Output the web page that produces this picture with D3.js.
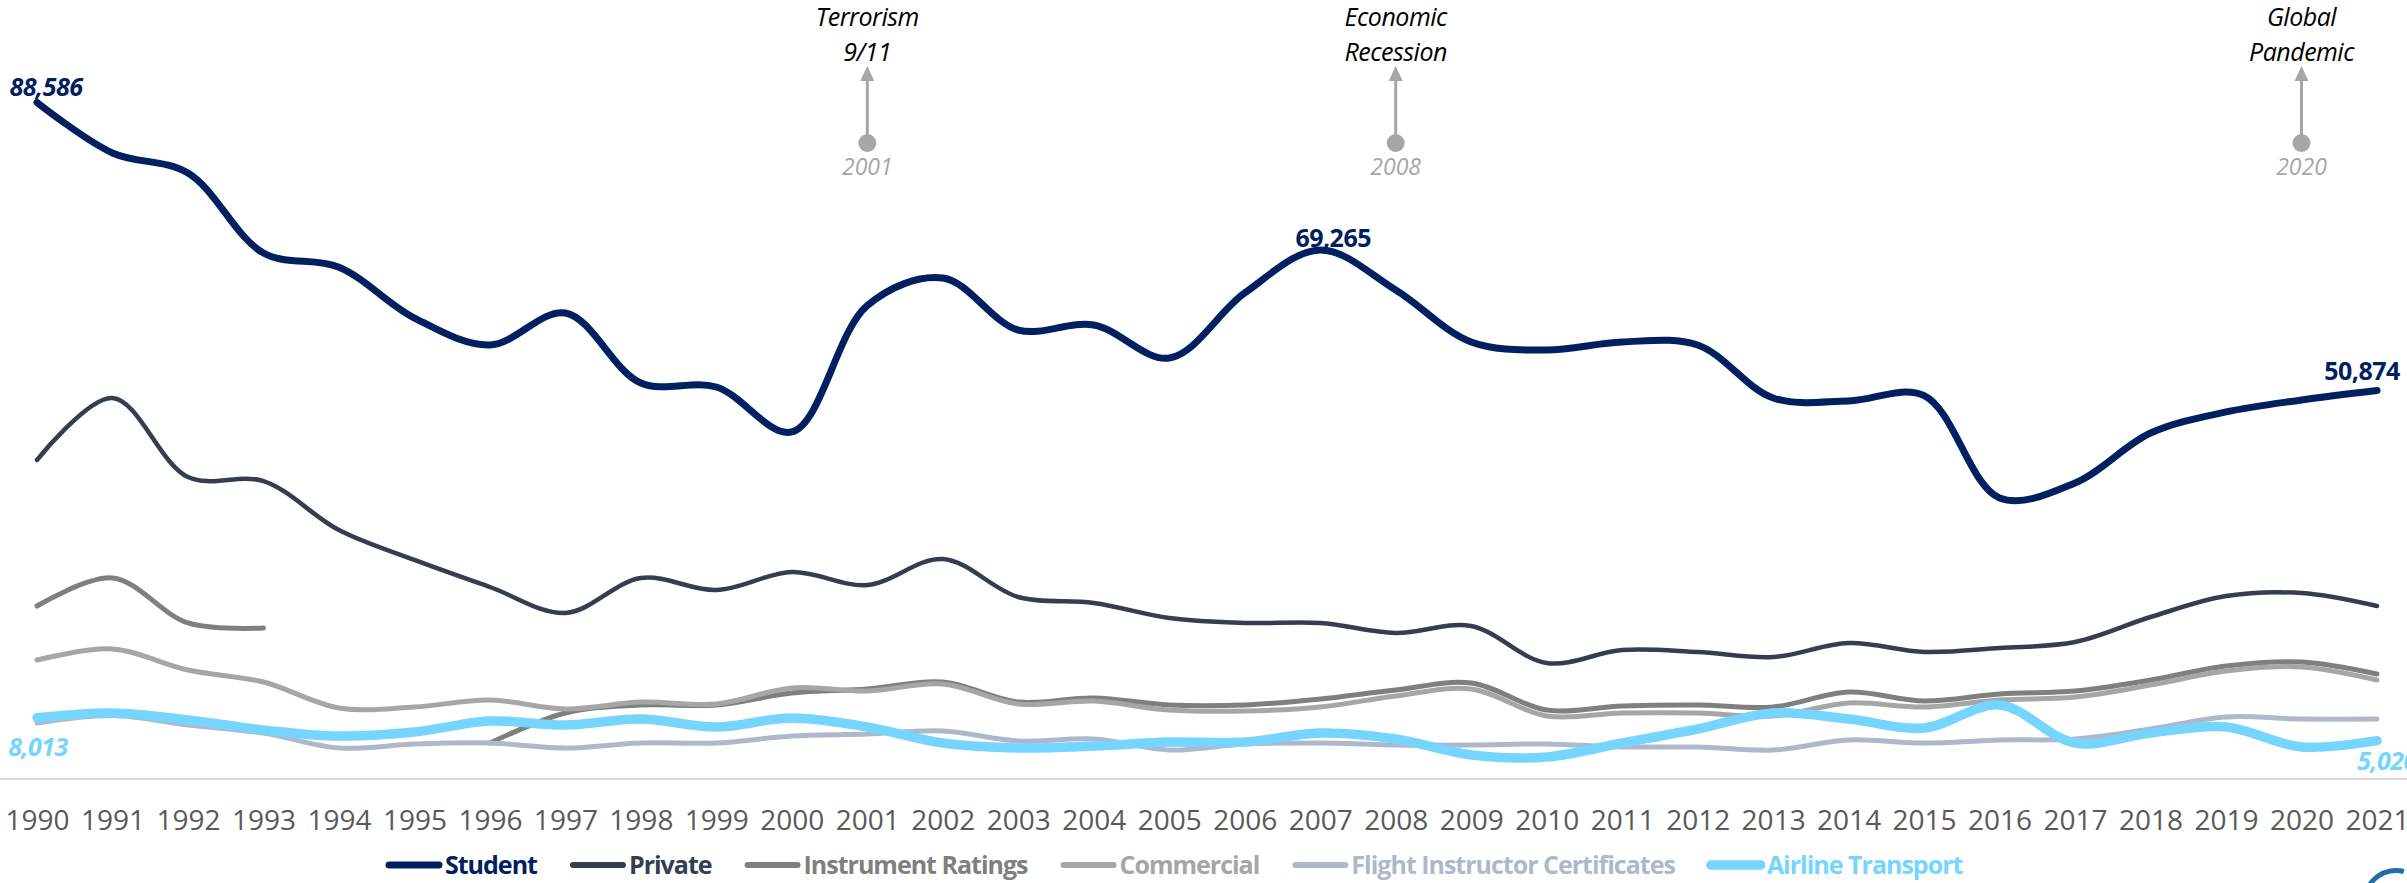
<!DOCTYPE html>
<html>
<head>
<meta charset="utf-8">
<script src="https://cdn.jsdelivr.net/npm/d3@7"></script>
<style>
  body { margin: 0; background: #fff; }
  text { font-family: "Open Sans", "Noto Sans", sans-serif; }
</style>
</head>
<body>
<div id="chart"></div>
<script>
const width = 2407
const height = 883

// Data
const years = [1990, 1991, 1992, 1993, 1994, 1995, 1996, 1997, 1998, 1999, 2000, 2001, 2002, 2003, 2004, 2005,
  2006, 2007, 2008, 2009, 2010, 2011, 2012, 2013, 2014, 2015, 2016, 2017, 2018, 2019, 2020, 2021]
const student = [88586, 81970, 79350, 68875, 67000, 60360, 56830, 61020, 51850, 51330, 45440, 62000, 65600, 58790, 59450, 55120,
  63640, 69265, 64030, 57220, 56170, 57220, 56830, 49890, 49500, 50200, 36800, 38760, 45300, 48060, 49630, 50874]
const privatePilot = [41770, 49890, 39540, 39000, 32600, 28680, 25140, 21740, 26320, 24750, 27100, 25400, 28810, 23830, 23050, 21080,
  20430, 20430, 19120, 20030, 15190, 16890, 16630, 15970, 17810, 16630, 17150, 17940, 21210, 23960, 24350, 22650]
const instrument = [22650, 26320, 20430, 19770, null, null, 4710, 8640, 9690, 9690, 11260, 11780, 12700, 10080, 10610, 9690,
  9690, 10480, 11650, 12570, 9030, 9560, 9690, 9430, 11390, 10210, 11130, 11520, 12960, 14800, 15320, 13750]
const commercial = [15580, 17020, 14270, 12700, 9300, 9430, 10340, 9170, 10080, 9820, 11920, 11520, 12440, 9820, 10210, 9030,
  8900, 9430, 10870, 11780, 8250, 8640, 8640, 8250, 9950, 9430, 10340, 10740, 12310, 14140, 14670, 12960]
const instructor = [7330, 8300, 7070, 6020, 4060, 4580, 4710, 4060, 4710, 4710, 5630, 5890, 6290, 4980, 5240, 3800,
  4580, 4710, 4450, 4450, 4580, 4190, 4190, 3800, 5110, 4710, 5110, 5240, 6550, 8120, 7860, 7860]
const airline = [8013, 8640, 7730, 6420, 5630, 6150, 7590, 7070, 7860, 6810, 7990, 6810, 4710, 4060, 4320, 4840,
  4840, 6020, 5240, 3140, 2880, 4710, 6550, 8640, 7860, 6680, 9690, 4710, 6020, 6810, 4190, 5020]

const seriesNames = ["Student", "Private", "Instrument Ratings", "Commercial", "Flight Instructor Certificates", "Airline Transport"]
const seriesValues = [student, privatePilot, instrument, commercial, instructor, airline]
const seriesColors = ["#002060", "#333F50", "#7F7F7F", "#A6A6A6", "#ADB9CA", "#75D5FF"]
const seriesWidths = [7, 4.5, 5, 5, 5, 9.5]

const eventYears = [2001, 2008, 2020]
const eventLabels = [["Terrorism", "9/11"], ["Economic", "Recession"], ["Global", "Pandemic"]]

const svg = d3.select("div#chart").append("svg").attr("width", width).attr("height", height)

// Scales
const x = d3.scalePoint().domain(years).range([37, 2377])
const y = d3.scaleLinear().domain([0, 102000]).range([779, 0])

// X axis
const xAxis = d3.axisBottom(x).tickSize(0).tickPadding(31)
const xAxisGroup = svg.append("g").attr("transform", "translate(0, 779)").call(xAxis)
xAxisGroup.select(".domain").remove()
xAxisGroup.append("line").attr("x1", 0).attr("x2", width).attr("stroke", "#D9D9D9").attr("stroke-width", 2)
xAxisGroup.selectAll(".tick text")
  .attr("font-family", "'Open Sans', sans-serif").attr("font-size", 28).attr("fill", "#595959")

// Lines
const line = d3.line()
  .defined(d => d != null)
  .x((d, i) => x(years[i]))
  .y(d => y(d))
  .curve(d3.curveCatmullRom)

const linesGroup = svg.append("g").attr("id", "linesGroup")
seriesValues.forEach((values, s) => {
  linesGroup.append("path")
    .attr("d", line(values))
    .attr("fill", "none")
    .attr("stroke", seriesColors[s])
    .attr("stroke-width", seriesWidths[s])
    .attr("stroke-linecap", "round")
    .attr("stroke-linejoin", "round")
})

// Data labels
const labels = svg.append("g").attr("id", "labels")
function addLabel(values, idx, color, italic, dx, dy) {
  labels.append("text")
    .attr("x", x(years[idx]) + dx)
    .attr("y", y(values[idx]) + dy)
    .attr("text-anchor", "middle")
    .attr("font-size", 25)
    .attr("font-weight", "bold")
    .attr("font-style", italic ? "italic" : "normal")
    .attr("letter-spacing", -0.5)
    .attr("fill", color)
    .text(d3.format(",")(values[idx]))
}
addLabel(student, 0, "#002060", true, 9, -6)
addLabel(student, years.indexOf(2007), "#002060", false, 13, -3)
addLabel(student, years.length - 1, "#002060", false, -15, -10)
addLabel(airline, 0, "#75D5FF", true, 1, 38)
addLabel(airline, years.length - 1, "#75D5FF", true, 10, 29)

// Event annotations
const events = svg.append("g").attr("id", "events")
eventYears.forEach((yr, i) => {
  const ex = x(yr)
  const g = events.append("g")
  g.append("line")
    .attr("x1", ex).attr("x2", ex)
    .attr("y1", 143).attr("y2", 78)
    .attr("stroke", "#A6A6A6").attr("stroke-width", 3)
  g.append("path")
    .attr("d", `M${ex - 7},81 L${ex},66 L${ex + 7},81 Z`)
    .attr("fill", "#A6A6A6")
  g.append("circle").attr("cx", ex).attr("cy", 143).attr("r", 9).attr("fill", "#A6A6A6")
  g.append("text")
    .attr("x", ex).attr("y", 175)
    .attr("text-anchor", "middle")
    .attr("font-size", 23).attr("font-style", "italic").attr("fill", "#A6A6A6")
    .text(yr)
  eventLabels[i].forEach((t, k) => {
    g.append("text")
      .attr("x", ex).attr("y", 26 + k * 35)
      .attr("text-anchor", "middle")
      .attr("font-size", 25).attr("font-style", "italic").attr("fill", "#000")
      .attr("letter-spacing", -0.5)
      .text(t)
  })
})

// Legend
const legend = svg.append("g").attr("id", "legend").attr("transform", "translate(0, 865)")
let lx = 385
seriesNames.forEach((name, s) => {
  legend.append("line")
    .attr("x1", lx + 4).attr("x2", lx + 54)
    .attr("stroke", seriesColors[s])
    .attr("stroke-width", Math.max(seriesWidths[s], 6))
    .attr("stroke-linecap", "round")
  const t = legend.append("text")
    .attr("x", lx + 60).attr("y", 9)
    .attr("font-size", 25).attr("font-weight", "bold")
    .attr("letter-spacing", -1)
    .attr("fill", seriesColors[s])
    .text(name)
  lx += 60 + t.node().getComputedTextLength() + 32
})

// Logo fragment (bottom right corner)
svg.append("path")
  .attr("transform", "translate(2396, 902)")
  .attr("d", d3.arc().innerRadius(29).outerRadius(34).startAngle(-1.5).endAngle(0.25)())
  .attr("fill", "#1F6EA8")
</script>
</body>
</html>
